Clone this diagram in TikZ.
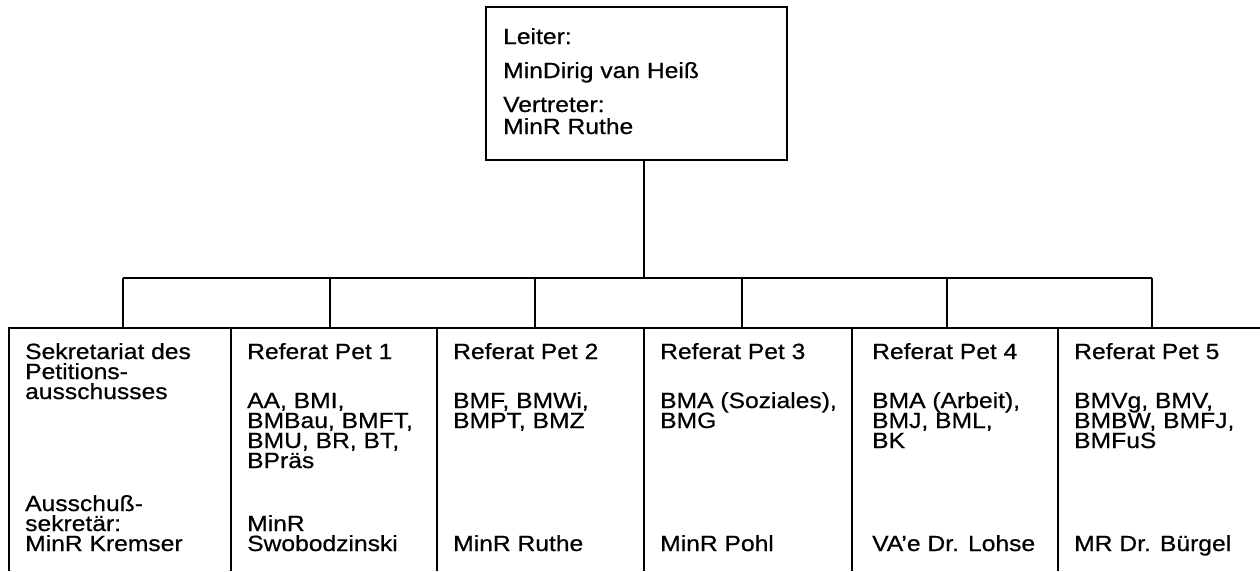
\documentclass[tikz,border=0pt]{standalone}
\usepackage{fontspec}
\setmainfont{Liberation Sans}[FakeStretch=1.12,FakeBold=0.6]
\begin{document}
\begin{tikzpicture}[x=1pt,y=-1pt,
  line/.style={line width=1.8pt},
  boxarea/.style={rectangle,inner sep=0pt,anchor=north west},
  txt/.style={inner sep=0pt,anchor=base west,align=left,
    font=\fontsize{22}{20}\selectfont}]
\useasboundingbox (0,0) rectangle (1260,571);
% top box
\node[draw,line,rectangle,minimum width=301pt,minimum height=153pt,inner sep=0pt] (top) at (636.5,83.5) {};
% (base anchor of a multi-line node = baseline of its last line)
\node[txt] (toptext) at (503,134) {Leiter:\\[14pt]MinDirig van Heiß\\[14pt]Vertreter:\\[2pt]MinR Ruthe};
% bottom box areas
\node[boxarea,minimum width=222pt,minimum height=243pt] (b1) at (9,328) {};
\node[boxarea,minimum width=206pt,minimum height=243pt] (b2) at (231,328) {};
\node[boxarea,minimum width=207pt,minimum height=243pt] (b3) at (437,328) {};
\node[boxarea,minimum width=208pt,minimum height=243pt] (b4) at (644,328) {};
\node[boxarea,minimum width=206pt,minimum height=243pt] (b5) at (852,328) {};
\node[boxarea,minimum width=202pt,minimum height=243pt] (b6) at (1058,328) {};
% hub and drop points
\coordinate (hub) at (644,278);
\coordinate (d1) at (123,278);
\coordinate (d2) at (330,278);
\coordinate (d3) at (535,278);
\coordinate (d4) at (742,278);
\coordinate (d5) at (947,278);
\coordinate (d6) at (1152,278);
% connectors
\draw[line] (top.south -| hub) -- (hub);
\draw[line] (d1) -- (d6);
\foreach \i in {1,...,6}{\draw[line] (d\i) -- (d\i |- b\i.north);}
% box borders (open at bottom)
\draw[line] (b1.south west) -- (b1.north west) -- (b6.north east);
\foreach \i in {2,...,6}{\draw[line] (b\i.north west) -- (b\i.south west);}
% texts
\node[txt] (h1) at (25,399) {Sekretariat des\\Petitions-\\ausschusses};
\node[txt] (f1) at (25,551) {Ausschuß-\\sekretär:\\MinR Kremser};
\node[txt] (h2) at (247,359) {Referat Pet 1};
\node[txt] (l2) at (247,468) {AA, BMI,\\BMBau, BMFT,\\BMU, BR, BT,\\BPräs};
\node[txt] (f2) at (247,551) {MinR\\Swobodzinski};
\node[txt] (h3) at (453,359) {Referat Pet 2};
\node[txt] (l3) at (453,428) {BMF, BMWi,\\BMPT, BMZ};
\node[txt] (f3) at (453,551) {MinR Ruthe};
\node[txt] (h4) at (660,359) {Referat Pet 3};
\node[txt] (l4) at (660,428) {BMA (Soziales),\\BMG};
\node[txt] (f4) at (660,551) {MinR Pohl};
\node[txt] (h5) at (872,359) {Referat Pet 4};
\node[txt] (l5) at (872,448) {BMA (Arbeit),\\BMJ, BML,\\BK};
\node[txt] (f5) at (872,551) {VA'e Dr. Lohse};
\node[txt] (h6) at (1074,359) {Referat Pet 5};
\node[txt] (l6) at (1074,448) {BMVg, BMV,\\BMBW, BMFJ,\\BMFuS};
\node[txt] (f6) at (1074,551) {MR Dr. Bürgel};
\end{tikzpicture}
\end{document}
